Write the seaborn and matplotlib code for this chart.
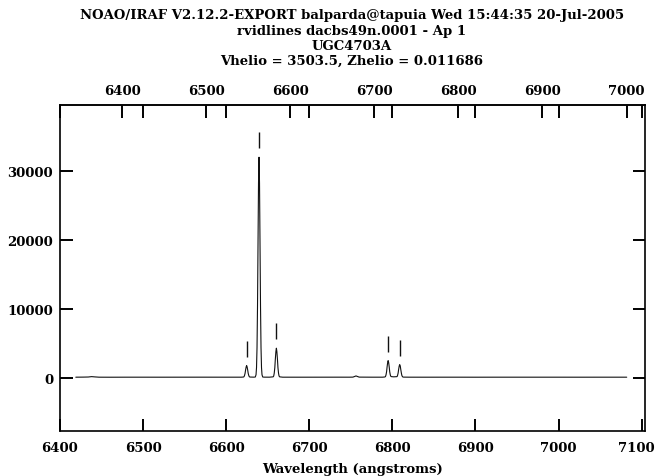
import matplotlib
matplotlib.use("Agg")
import matplotlib.pyplot as plt
import matplotlib.transforms as mtransforms
import seaborn as sns
import pandas as pd

# Spectrum of UGC4703A, aperture 1 (observed wavelength in angstroms, flux counts)
wavelength = [
    6419.0, 6428.0, 6434.0, 6438.0, 6442.0, 6447.0, 6460.0, 6480.0, 6500.0,
    6520.0, 6545.0, 6570.0, 6595.0, 6610.0, 6618.0,
    # [NII] 6548
    6620.7, 6621.4, 6622.0, 6622.7, 6623.3, 6624.0, 6624.6, 6625.2, 6625.9,
    6626.5, 6627.2, 6627.8, 6628.5,
    # H-alpha
    6633.0, 6635.0, 6635.9, 6636.5, 6637.1, 6637.7, 6638.3, 6638.9, 6639.5,
    6640.1, 6640.7, 6641.3, 6641.9, 6642.5, 6643.1, 6644.0, 6646.0,
    # [NII] 6583
    6652.0, 6656.5, 6657.2, 6657.8, 6658.5, 6659.1, 6659.8, 6660.4, 6661.0,
    6661.7, 6662.3, 6663.0, 6663.6, 6664.3, 6668.0,
    6690.0, 6715.0, 6735.0, 6748.0,
    # HeI 6678
    6752.5, 6754.5, 6756.2, 6758.0, 6760.0,
    6775.0, 6788.0,
    # [SII] 6716
    6791.0, 6791.7, 6792.3, 6793.0, 6793.6, 6794.3, 6794.9, 6795.5, 6796.2,
    6796.8, 6797.5, 6798.1, 6798.8,
    6801.5,
    # [SII] 6731
    6805.6, 6806.2, 6806.9, 6807.5, 6808.2, 6808.8, 6809.5, 6810.1, 6810.8,
    6811.4, 6812.1, 6812.7, 6813.4,
    6820.0, 6840.0, 6860.0, 6880.0, 6900.0, 6925.0, 6950.0, 6975.0,
    7000.0, 7025.0, 7050.0, 7070.0, 7082.0,
]
flux = [
    150, 160, 175, 230, 190, 150, 145, 150, 150,
    148, 150, 152, 150, 150, 150,
    170, 220, 380, 700, 1170, 1630, 1830, 1630, 1170,
    700, 380, 220, 170,
    155, 170, 500, 1550, 4450, 10500, 19500, 28270, 32030,
    28270, 19500, 10500, 4450, 1550, 500, 170, 155,
    150, 200, 330, 720, 1510, 2700, 3850, 4350, 3850,
    2700, 1510, 720, 330, 200, 150,
    148, 150, 152, 150,
    160, 250, 330, 250, 160,
    150, 150,
    180, 250, 470, 930, 1610, 2270, 2550, 2270, 1610,
    930, 470, 280, 230,
    200,
    230, 400, 750, 1260, 1760, 1970, 1760, 1260, 750,
    400, 230, 175, 160,
    150, 148, 150, 150, 147, 150, 150, 150,
    150, 148, 150, 150, 150,
]

# Identified emission lines: observed centres and peak fluxes
line_centers = [6624.6, 6639.5, 6660.4, 6794.9, 6809.5]
line_peaks = [1830, 32030, 4350, 2550, 1970]

# Redshift for the rest-frame axis along the top
z_helio = 0.011686

bottom_ticks = [6400, 6500, 6600, 6700, 6800, 6900, 7000, 7100]
top_ticks = [6400, 6500, 6600, 6700, 6800, 6900, 7000]
y_ticks = [0, 10000, 20000, 30000]

title_lines = [
    "NOAO/IRAF V2.12.2-EXPORT balparda@tapuia Wed 15:44:35 20-Jul-2005",
    "rvidlines dacbs49n.0001 - Ap 1",
    "UGC4703A",
    "Vhelio = 3503.5, Zhelio = 0.011686",
]

sns.set_style("ticks")
plt.rcParams["font.family"] = ["DejaVu Serif", "DejaVu Sans"]
plt.rcParams["font.weight"] = "bold"
plt.rcParams["text.color"] = "black"
plt.rcParams["axes.labelcolor"] = "black"
plt.rcParams["xtick.color"] = "black"
plt.rcParams["ytick.color"] = "black"

FS = 9.5
TICK_LEN = 9.0     # points
TICK_W = 1.4
SPINE_W = 1.2

fig = plt.figure(figsize=(6.57, 4.77), dpi=100)
W, H = 657.0, 477.0
ax = fig.add_axes([60 / W, (H - 432) / H, (645 - 60) / W, (432 - 106) / H])

df = pd.DataFrame({"wavelength": wavelength, "flux": flux})
sns.lineplot(data=df, x="wavelength", y="flux", ax=ax, sort=False,
             color="#111111", linewidth=0.8, estimator=None)

# Line identification marks above each peak
gap, length = 1300, 2300
ax.vlines(line_centers, [p + gap for p in line_peaks],
          [p + gap + length for p in line_peaks], color="#111111", linewidth=1.0)

ax.set_xlim(6400, 7104)
ax.set_ylim(-7650, 39600)

ax.set_xticks(bottom_ticks)
ax.set_xticklabels([str(t) for t in bottom_ticks])
ax.set_yticks(y_ticks)
ax.set_yticklabels([str(t) for t in y_ticks])
ax.minorticks_off()
ax.tick_params(axis="both", which="major", direction="in", length=TICK_LEN,
               width=TICK_W, top=True, right=True, labeltop=False,
               labelright=False, labelsize=FS, color="black")
ax.tick_params(axis="x", pad=7)
ax.tick_params(axis="y", pad=5)
for lab in ax.get_xticklabels() + ax.get_yticklabels():
    lab.set_fontweight("bold")
# keep the last wavelength label inside the figure edge
last = ax.get_xticklabels()[-1]
last.set_transform(last.get_transform() +
                   mtransforms.ScaledTranslation(-5 / 100, 0, fig.dpi_scale_trans))
for s in ax.spines.values():
    s.set_linewidth(SPINE_W)
    s.set_color("black")

ax.set_xlabel("Wavelength (angstroms)", fontsize=FS, fontweight="bold", labelpad=6)
ax.set_ylabel("")

# Rest-frame wavelength along the top
secax = ax.secondary_xaxis("top", functions=(lambda x: x / (1 + z_helio),
                                             lambda x: x * (1 + z_helio)))
secax.set_xticks(top_ticks)
secax.set_xticklabels([str(t) for t in top_ticks], fontweight="bold")
secax.tick_params(direction="in", length=TICK_LEN, width=TICK_W, labelsize=FS,
                  pad=6, color="black")
secax.minorticks_off()
secax.spines["top"].set_linewidth(SPINE_W)

title_y = [16, 31, 46, 61]
for txt, yy in zip(title_lines, title_y):
    fig.text(352 / W, 1 - yy / H, txt, ha="center", va="center",
             fontsize=FS, fontweight="bold")

fig.savefig("out.png", dpi=100)
